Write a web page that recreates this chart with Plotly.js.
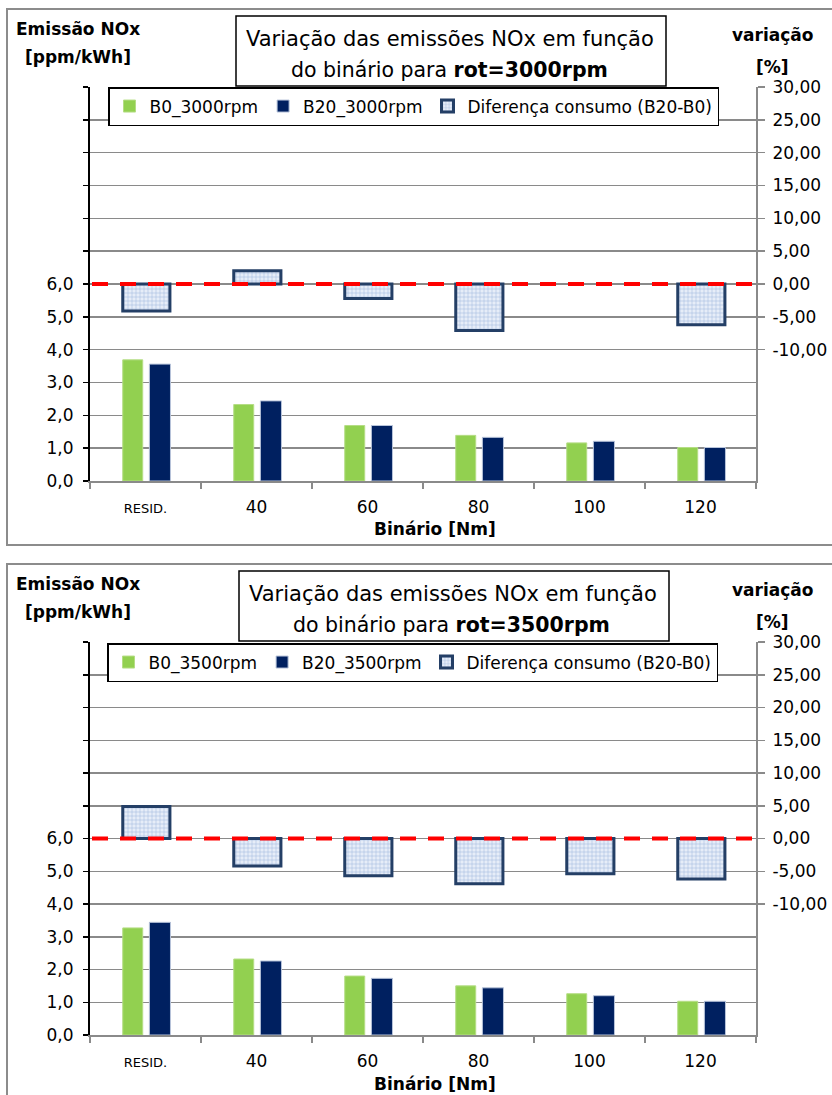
<!DOCTYPE html>
<html>
<head>
<meta charset="utf-8">
<script src="https://cdn.plot.ly/plotly-3.0.1.min.js"></script>
<style>html,body{margin:0;padding:0;background:#fff;}#chart{width:832px;height:1095px;}</style>
</head>
<body>
<div id="chart"></div>
<script>
// ---- data ----
const categories = ['RESID.', '40', '60', '80', '100', '120'];
const b0_3000 = [3.69, 2.33, 1.69, 1.39, 1.16, 1.02];
const b20_3000 = [3.56, 2.44, 1.69, 1.33, 1.21, 1.02];
const diff_3000 = [-4.1, 2.0, -2.2, -7.1, 0.0, -6.2];
const b0_3500 = [3.27, 2.32, 1.80, 1.50, 1.26, 1.03];
const b20_3500 = [3.44, 2.26, 1.73, 1.44, 1.20, 1.03];
const diff_3500 = [4.9, -4.2, -5.7, -6.9, -5.4, -6.2];
const leftTicks = [0, 1, 2, 3, 4, 5, 6, 7, 8, 9, 10, 11, 12];
const rightTicks = [-10, -5, 0, 5, 10, 15, 20, 25, 30];
const names3000 = ['B0_3000rpm', 'B20_3000rpm', 'Diferença consumo (B20-B0)'];
const names3500 = ['B0_3500rpm', 'B20_3500rpm', 'Diferença consumo (B20-B0)'];

// ---- styling ----
const W = 832, H = 1095;
const FONT = 'DejaVu Sans';
const GREEN = '#92D050', NAVY = '#002060', GRID = '#8A8A8A';
const px = v => v / W, py = v => 1 - v / H;

const leftText = leftTicks.map(v => v <= 6 ? v.toFixed(1).replace('.', ',') : '');
const rightText = rightTicks.map(v => v.toFixed(2).replace('.', ','));
const catText = categories.map(c => c === 'RESID.' ? '<span style="font-size:13px">' + c + '</span>' : c);

function barTraces(b0, b20, diff, names, xa, ya, ya2, leg) {
  return [
    {type: 'bar', x: categories, y: b0, name: names[0], xaxis: xa, yaxis: ya, legend: leg,
     offset: -0.205, width: 0.18,
     marker: {color: GREEN, line: {color: '#B5DD85', width: 1}}},
    {type: 'bar', x: categories, y: b20, name: names[1], xaxis: xa, yaxis: ya, legend: leg,
     offset: 0.035, width: 0.19,
     marker: {color: NAVY, line: {color: '#B8C4DA', width: 1}}},
    {type: 'bar', x: categories, y: diff, name: names[2], xaxis: xa, yaxis: ya2, legend: leg,
     offset: -0.205, width: 0.425,
     marker: {color: '#E3EBF6', line: {color: '#243F66', width: diff.map(v => v === 0 ? 0 : 3)},
              pattern: {shape: '+', fgcolor: '#9FB8DE', bgcolor: '#E6EDF8', size: 4, solidity: 0.25}}}
  ];
}

const data = [
  ...barTraces(b0_3000, b20_3000, diff_3000, names3000, 'x', 'y', 'y2', 'legend'),
  ...barTraces(b0_3500, b20_3500, diff_3500, names3500, 'x2', 'y3', 'y4', 'legend2')
];

function xAxis(anchor) {
  return {domain: [px(90), px(756)], anchor: anchor, type: 'category', categoryorder: 'array',
    categoryarray: categories, range: [-0.5, 5.5], tickson: 'boundaries', ticks: 'outside',
    ticklen: 6, tickwidth: 1.5, tickcolor: GRID, showline: true, linecolor: GRID, linewidth: 1.5,
    tickmode: 'array', tickvals: categories, ticktext: catText,
    tickfont: {family: FONT, size: 17, color: '#000'}, showgrid: false, zeroline: false,
    ticklabelstandoff: 10, fixedrange: true};
}
function yLeft(anchor, t, b) {
  return {domain: [py(b), py(t)], anchor: anchor, range: [0, 12], tickmode: 'array',
    tickvals: leftTicks, ticktext: leftText, showgrid: true, gridcolor: GRID, gridwidth: 1.5,
    showline: true, linecolor: '#000', linewidth: 2, ticks: 'outside', ticklen: 5, tickwidth: 1.5,
    tickcolor: '#000', tickfont: {family: FONT, size: 17, color: '#000'}, zeroline: false,
    ticklabelstandoff: 6, fixedrange: true};
}
function yRight(overlay, anchor) {
  return {overlaying: overlay, side: 'right', anchor: anchor, range: [-30, 30], tickmode: 'array',
    tickvals: rightTicks, ticktext: rightText, showgrid: false, showline: true, linecolor: GRID,
    linewidth: 2, ticks: 'outside', ticklen: 7, tickwidth: 1.5, tickcolor: GRID,
    tickfont: {family: FONT, size: 17, color: '#000'}, zeroline: false, ticklabelstandoff: 4,
    fixedrange: true};
}

function ann(text, x, y, size, bold, extra) {
  return Object.assign({xref: 'paper', yref: 'paper', x: px(x), y: py(y), xanchor: 'center', yanchor: 'middle',
    showarrow: false, text: bold ? '<b>' + text + '</b>' : text,
    font: {family: FONT, size: size, color: '#000'}}, extra || {});
}

function chartDecor(off, dx, rpm) {
  return {
    shapes: [
      {type: 'rect', xref: 'paper', yref: 'paper', x0: px(7), x1: px(845), y0: py(9 + off), y1: py(545 + off),
       line: {color: '#8C8C8C', width: 2}, layer: 'below'},
      {type: 'rect', xref: 'paper', yref: 'paper', x0: px(236 + dx), x1: px(666 + dx), y0: py(16 + off), y1: py(86 + off),
       line: {color: '#000', width: 1.5}, fillcolor: '#fff', layer: 'above'}
    ],
    annotations: [
      ann('Variação das emissões NOx em função', 450 + dx, 39 + off, 21, false),
      ann('do binário para <b>rot=' + rpm + 'rpm</b>', 449 + dx, 70 + off, 20.5, false),
      ann('Emissão NOx', 78, 29 + off, 17, true),
      ann('[ppm/kWh]', 78, 57 + off, 17, true),
      ann('variação', 772, 35 + off, 17, true),
      ann('[%]', 772, 67 + off, 17, true),
      ann('Binário [Nm]', 435, 529 + off, 17, true)
    ]
  };
}

const decorTop = chartDecor(0, 0, '3000');
const decorBot = chartDecor(555, 3, '3500');

const redLine = (yref) => ({type: 'line', xref: 'paper', yref: yref, x0: px(92), x1: px(756), y0: 0, y1: 0,
  line: {color: '#FF0000', width: 4, dash: '16px,12px'}, layer: 'above'});

const legendBase = {orientation: 'h', xanchor: 'left', yanchor: 'top', bgcolor: '#fff',
  bordercolor: '#000', borderwidth: 1.5, font: {family: FONT, size: 17, color: '#000'},
  traceorder: 'normal', itemwidth: 30};

const layout = {
  width: W, height: H, margin: {l: 0, r: 0, t: 0, b: 0}, paper_bgcolor: '#fff', plot_bgcolor: '#fff',
  barmode: 'overlay', showlegend: true, font: {family: FONT, color: '#000'},
  xaxis: xAxis('y'), yaxis: yLeft('x', 87, 481), yaxis2: yRight('y', 'x'),
  xaxis2: xAxis('y3'), yaxis3: yLeft('x2', 642, 1035), yaxis4: yRight('y3', 'x2'),
  legend: Object.assign({}, legendBase, {x: px(108), y: py(87)}),
  legend2: Object.assign({}, legendBase, {x: px(107), y: py(643)}),
  shapes: [...decorTop.shapes, ...decorBot.shapes, redLine('y2'), redLine('y4')],
  annotations: [...decorTop.annotations, ...decorBot.annotations]
};

Plotly.newPlot('chart', data, layout, {staticPlot: true, displayModeBar: false});
</script>
</body>
</html>
